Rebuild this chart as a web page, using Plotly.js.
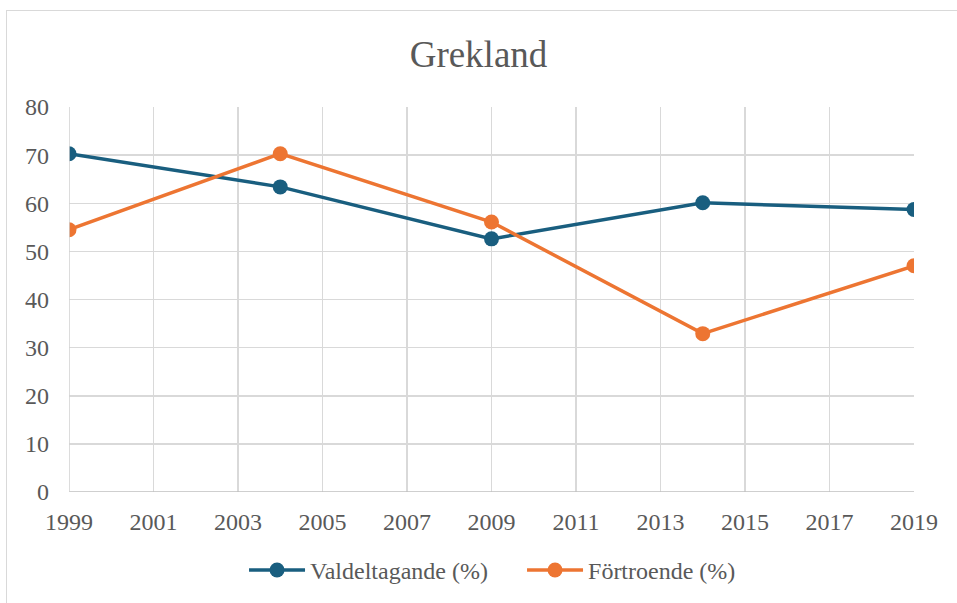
<!DOCTYPE html>
<html>
<head>
<meta charset="utf-8">
<script src="https://cdn.plot.ly/plotly-3.0.1.min.js"></script>
<style>
html,body{margin:0;padding:0;background:#fff;overflow:hidden;}
#chart{width:957px;height:603px;}
#frame{position:absolute;left:6px;top:10px;width:970px;height:620px;border:1.5px solid #d9d9d9;pointer-events:none;}
</style>
</head>
<body>
<div id="chart"></div>
<div id="frame"></div>
<script>
const years = [1999, 2004, 2009, 2014, 2019];
const valdeltagande = [70.3, 63.4, 52.6, 60.1, 58.7];
const fortroende = [54.5, 70.3, 56.1, 32.9, 47.0];
const seriesNames = ['Valdeltagande (%)', 'Förtroende (%)'];
const xTicks = [1999, 2001, 2003, 2005, 2007, 2009, 2011, 2013, 2015, 2017, 2019];
const yTicks = [0, 10, 20, 30, 40, 50, 60, 70, 80];

const font = '"Liberation Serif", "Times New Roman", serif';
const traces = [
  {x: years, y: valdeltagande, name: seriesNames[0], mode: 'lines+markers', type: 'scatter',
   line: {color: '#195e7f', width: 3.5}, marker: {color: '#195e7f', size: 15}},
  {x: years, y: fortroende, name: seriesNames[1], mode: 'lines+markers', type: 'scatter',
   line: {color: '#ed7532', width: 3.5}, marker: {color: '#ed7532', size: 15}}
];
const layout = {
  width: 957, height: 603,
  margin: {l: 69, r: 43, t: 107, b: 111},
  paper_bgcolor: '#fff', plot_bgcolor: '#fff',
  font: {family: font, color: '#595959', size: 24},
  title: {text: 'Grekland', font: {family: font, size: 37, color: '#595959'}, x: 0.5, xanchor: 'center', y: 0.91, yanchor: 'middle'},
  xaxis: {range: [1999, 2019], tickvals: xTicks, ticktext: xTicks.map(String), showgrid: true, gridcolor: '#d9d9d9', gridwidth: 1.5,
          zeroline: false, showline: false, ticks: '', tickfont: {size: 24, color: '#595959'}, ticklabelstandoff: 13, automargin: false},
  yaxis: {range: [0, 80], tickvals: yTicks, showgrid: true, gridcolor: '#d9d9d9', gridwidth: 1.5, zeroline: false,
          showline: false, ticks: '', tickfont: {size: 24, color: '#595959'}, ticklabelstandoff: 19, automargin: false},
  shapes: [
    {type: 'line', xref: 'paper', yref: 'y', x0: 0, x1: 1, y0: 0, y1: 0, line: {color: '#bfbfbf', width: 1.5}},
    {type: 'line', xref: 'x', yref: 'paper', x0: 1999, x1: 1999, y0: 0, y1: 1, line: {color: '#d0d0d0', width: 1.5}}
  ],
  showlegend: true,
  legend: {orientation: 'h', xref: 'container', yref: 'container', x: 0.255, xanchor: 'left', y: 0.054, yanchor: 'middle',
           font: {size: 24, color: '#595959'}, itemwidth: 56, entrywidth: 207, entrywidthmode: 'pixels', tracegroupgap: 0}
};
Plotly.newPlot('chart', traces, layout, {displayModeBar: false, staticPlot: true});
</script>
</body>
</html>
